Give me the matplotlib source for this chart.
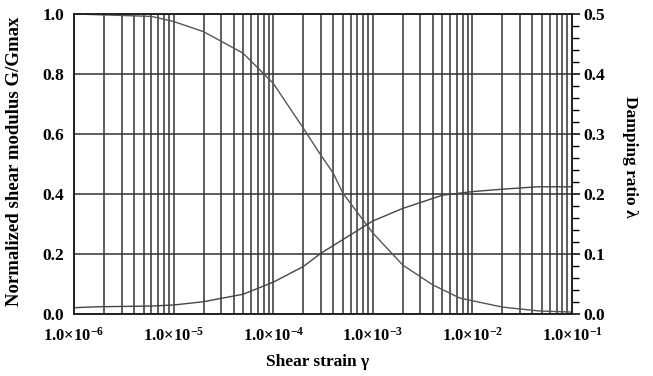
import numpy as np
import matplotlib.pyplot as plt
from matplotlib.ticker import FixedLocator, LogLocator, NullFormatter

plt.rcParams['font.family'] = 'Liberation Serif'
plt.rcParams['font.weight'] = 'bold'
plt.rcParams['mathtext.fontset'] = 'custom'
plt.rcParams['mathtext.rm'] = 'Liberation Serif:bold'
plt.rcParams['mathtext.bf'] = 'Liberation Serif:bold'
plt.rcParams['mathtext.default'] = 'rm'

# G/Gmax curve (left axis)
g_strain = [1e-6, 6e-6, 1e-5, 2e-5, 5e-5, 1e-4, 2e-4, 3e-4, 4e-4, 5e-4,
            1e-3, 2e-3, 4e-3, 7.5e-3, 2e-2, 4.7e-2, 9e-2, 1e-1]
g_ratio = [1.0, 0.992, 0.975, 0.941, 0.869, 0.769, 0.62, 0.53, 0.47, 0.403,
           0.27, 0.163, 0.097, 0.053, 0.023, 0.01, 0.007, 0.006]

# damping curve (right axis)
d_strain = [1e-6, 1.7e-6, 6e-6, 1e-5, 2e-5, 5e-5, 1e-4, 2e-4, 3e-4, 5e-4,
            1e-3, 2e-3, 5e-3, 1e-2, 2e-2, 4.5e-2, 1e-1]
d_ratio = [0.0105, 0.012, 0.0133, 0.015, 0.0205, 0.033, 0.053, 0.079, 0.101, 0.124,
           0.155, 0.176, 0.198, 0.204, 0.208, 0.212, 0.212]

xticks = [1e-6, 1e-5, 1e-4, 1e-3, 1e-2, 1e-1]
xticklabels = [r'1.0×10$^{-%d}$' % k for k in [6, 5, 4, 3, 2, 1]]

fig = plt.figure(figsize=(6.53, 3.76), dpi=100)
ax = fig.add_axes([0.1133, 0.1649, 0.7627, 0.7979])

gridc = '#333333'
ax.set_xscale('log')
ax.set_xlim(1e-6, 1e-1)
ax.set_ylim(0, 1.0)
ax.xaxis.set_major_locator(FixedLocator(xticks))
ax.xaxis.set_minor_locator(LogLocator(base=10, subs=np.arange(2, 10)))
ax.xaxis.set_minor_formatter(NullFormatter())
ax.set_xticklabels(xticklabels)
ax.set_yticks([0, 0.2, 0.4, 0.6, 0.8, 1.0])
ax.set_yticklabels(['0.0', '0.2', '0.4', '0.6', '0.8', '1.0'])
ax.grid(True, which='both', axis='x', color=gridc, lw=1.1)
ax.grid(True, which='major', axis='y', color=gridc, lw=1.1)
ax.tick_params(axis='x', which='both', length=0, labelsize=12, pad=9)
ax.tick_params(axis='y', which='both', length=0, labelsize=12.5, pad=7)
for s in ax.spines.values():
    s.set_color('#222222')
    s.set_linewidth(1.2)

ax.plot(g_strain, g_ratio, color='#555555', lw=1.0)

ax2 = ax.twinx()
ax2.set_ylim(0, 0.5)
ax2.set_yticks([0, 0.1, 0.2, 0.3, 0.4, 0.5])
ax2.set_yticklabels(['0.0', '0.1', '0.2', '0.3', '0.4', '0.5'])
ax2.set_yticks(np.arange(0, 0.5, 0.02), minor=True)
ax2.tick_params(axis='y', which='major', length=6, width=1.1, direction='out', labelsize=12.5, pad=2)
ax2.tick_params(axis='y', which='minor', length=5, width=1.0, direction='out')
ax2.plot(d_strain, d_ratio, color='#444444', lw=1.0)
for s in ax2.spines.values():
    s.set_color('#222222')
    s.set_linewidth(1.2)

ax.set_xlabel('Shear strain γ', fontsize=12.5, fontweight='bold')
ax.xaxis.set_label_coords(0.49, -0.134)
ax.set_ylabel('Normalized shear modulus G/Gmax', fontsize=13.5, fontweight='bold', va='center')
ax.yaxis.set_label_coords(-0.12, 0.51)
ax2.set_ylabel('Damping ratio λ', fontsize=12.5, fontweight='bold', rotation=-90, va='center')
ax2.yaxis.set_label_coords(1.116, 0.523)

fig.savefig('out.png', dpi=100)
